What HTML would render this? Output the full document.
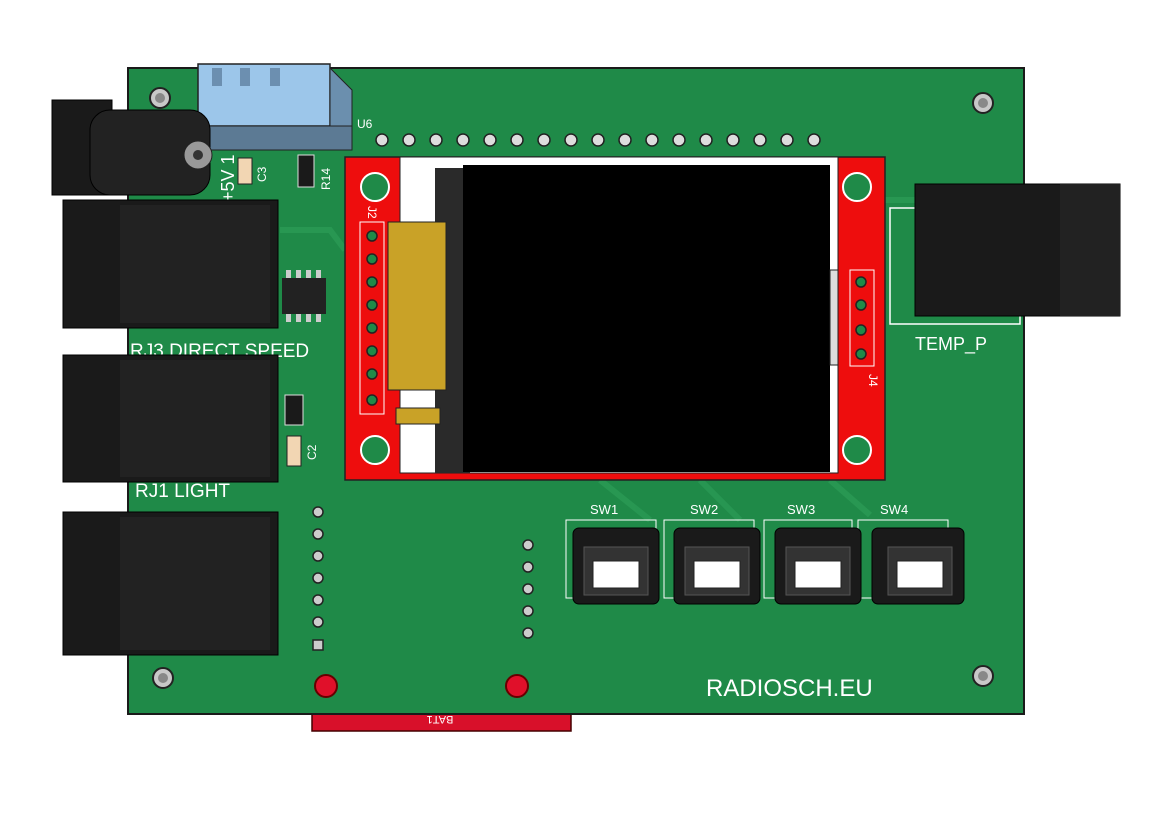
<!DOCTYPE html>
<html><head><meta charset="utf-8"><style>
html,body{margin:0;padding:0;background:#fff;}
svg{display:block;}
text{font-family:"Liberation Sans",sans-serif;}
</style></head><body>
<svg width="1171" height="831" viewBox="0 0 1171 831" xmlns="http://www.w3.org/2000/svg">
<rect width="1171" height="831" fill="#fff"/>
<rect x="312" y="710" width="259" height="21" fill="#d8102a" stroke="#400" stroke-width="1.5"/>
<text x="440" y="724" font-size="11" fill="#fff" text-anchor="middle" transform="rotate(180 440 720)">BAT1</text>
<rect x="128" y="68" width="896" height="646" fill="#1f8a48" stroke="#1a1a1a" stroke-width="2"/>
<g stroke="#2a9a55" stroke-width="6" fill="none" opacity="0.8">
<path d="M280 230 L330 230 L345 250"/><path d="M600 480 L650 520"/><path d="M700 480 L740 520"/><path d="M830 480 L870 515"/><path d="M885 200 L915 200"/>
</g>
<g fill="#c8c8c8" stroke="#222" stroke-width="2">
<circle cx="160" cy="98" r="10"/><circle cx="983" cy="103" r="10"/><circle cx="163" cy="678" r="10"/><circle cx="983" cy="676" r="10"/>
</g>
<g fill="#888"><circle cx="160" cy="98" r="5"/><circle cx="983" cy="103" r="5"/><circle cx="163" cy="678" r="5"/><circle cx="983" cy="676" r="5"/></g>
<g fill="#ddd" stroke="#222" stroke-width="1.5">
<circle cx="382" cy="140" r="6"/><circle cx="409" cy="140" r="6"/><circle cx="436" cy="140" r="6"/><circle cx="463" cy="140" r="6"/><circle cx="490" cy="140" r="6"/><circle cx="517" cy="140" r="6"/><circle cx="544" cy="140" r="6"/><circle cx="571" cy="140" r="6"/><circle cx="598" cy="140" r="6"/><circle cx="625" cy="140" r="6"/><circle cx="652" cy="140" r="6"/><circle cx="679" cy="140" r="6"/><circle cx="706" cy="140" r="6"/><circle cx="733" cy="140" r="6"/><circle cx="760" cy="140" r="6"/><circle cx="787" cy="140" r="6"/><circle cx="814" cy="140" r="6"/>
</g>
<text x="357" y="128" font-size="12" fill="#fff">U6</text>
<rect x="198" y="64" width="132" height="62" fill="#9cc6ea" stroke="#222" stroke-width="1.5"/>
<polygon points="330,68 352,90 352,146 330,126" fill="#6b8fae" stroke="#222"/>
<rect x="198" y="126" width="154" height="24" fill="#5c7a94" stroke="#222"/>
<rect x="212" y="68" width="10" height="18" fill="#6c8fb0"/><rect x="240" y="68" width="10" height="18" fill="#6c8fb0"/><rect x="270" y="68" width="10" height="18" fill="#6c8fb0"/>
<!-- barrel jack -->
<rect x="52" y="100" width="60" height="95" fill="#1a1a1a" stroke="#000"/>
<rect x="90" y="110" width="120" height="85" rx="20" fill="#222" stroke="#000"/>
<circle cx="198" cy="155" r="14" fill="#999" stroke="#222"/>
<circle cx="198" cy="155" r="5" fill="#333"/>
<text x="234" y="202" font-size="18" fill="#fff" transform="rotate(-90 234 202)">+5V 1</text>
<text x="266" y="182" font-size="12" fill="#fff" transform="rotate(-90 266 182)">C3</text>
<rect x="238" y="158" width="14" height="26" fill="#f2d6b3" stroke="#222"/>
<rect x="298" y="155" width="16" height="32" fill="#1a1a1a" stroke="#ddd"/>
<text x="330" y="190" font-size="12" fill="#fff" transform="rotate(-90 330 190)">R14</text>
<rect x="282" y="278" width="44" height="36" fill="#222"/>
<g fill="#ccc"><rect x="286" y="270" width="5" height="8"/><rect x="296" y="270" width="5" height="8"/><rect x="306" y="270" width="5" height="8"/><rect x="316" y="270" width="5" height="8"/><rect x="286" y="314" width="5" height="8"/><rect x="296" y="314" width="5" height="8"/><rect x="306" y="314" width="5" height="8"/><rect x="316" y="314" width="5" height="8"/></g>
<rect x="63" y="200" width="215" height="128" fill="#1a1a1a" stroke="#000"/>
<rect x="120" y="205" width="150" height="118" fill="#222"/>
<text x="130" y="357" font-size="19" fill="#fff">RJ3  DIRECT SPEED</text>
<rect x="63" y="355" width="215" height="127" fill="#1a1a1a" stroke="#000"/>
<rect x="120" y="360" width="150" height="117" fill="#222"/>
<text x="135" y="497" font-size="19" fill="#fff">RJ1   LIGHT</text>
<rect x="63" y="512" width="215" height="143" fill="#1a1a1a" stroke="#000"/>
<rect x="120" y="517" width="150" height="133" fill="#222"/>
<rect x="285" y="395" width="18" height="30" fill="#1a1a1a" stroke="#ddd"/>
<rect x="287" y="436" width="14" height="30" fill="#f2d6b3" stroke="#222"/>
<text x="316" y="460" font-size="12" fill="#fff" transform="rotate(-90 316 460)">C2</text>
<g fill="#ccc" stroke="#222" stroke-width="1.5">
<circle cx="318" cy="512" r="5"/><circle cx="318" cy="534" r="5"/><circle cx="318" cy="556" r="5"/><circle cx="318" cy="578" r="5"/><circle cx="318" cy="600" r="5"/><circle cx="318" cy="622" r="5"/><rect x="313" y="640" width="10" height="10"/>
<circle cx="528" cy="545" r="5"/><circle cx="528" cy="567" r="5"/><circle cx="528" cy="589" r="5"/><circle cx="528" cy="611" r="5"/><circle cx="528" cy="633" r="5"/>
</g>
<circle cx="326" cy="686" r="11" fill="#e0102a" stroke="#600" stroke-width="2"/>
<circle cx="517" cy="686" r="11" fill="#e0102a" stroke="#600" stroke-width="2"/>
<rect x="345" y="157" width="540" height="323" fill="#ee0d0d" stroke="#222" stroke-width="1.5"/>
<rect x="400" y="157" width="438" height="316" fill="#fff" stroke="#222"/>
<rect x="435" y="168" width="35" height="305" fill="#2a2a2a"/>
<rect x="463" y="165" width="367" height="307" fill="#000"/>
<rect x="830" y="270" width="8" height="95" fill="#ddd" stroke="#222"/>
<rect x="388" y="222" width="58" height="168" fill="#c9a227" stroke="#222"/>
<rect x="396" y="408" width="44" height="16" fill="#c9a227" stroke="#222"/>
<g fill="#1f8a48" stroke="#fff" stroke-width="2">
<circle cx="375" cy="187" r="14"/><circle cx="375" cy="450" r="14"/><circle cx="857" cy="187" r="14"/><circle cx="857" cy="450" r="14"/>
</g>
<rect x="360" y="222" width="24" height="192" fill="none" stroke="#fff"/>
<g fill="#1f8a48" stroke="#222" stroke-width="1.5">
<circle cx="372" cy="236" r="5"/><circle cx="372" cy="259" r="5"/><circle cx="372" cy="282" r="5"/><circle cx="372" cy="305" r="5"/><circle cx="372" cy="328" r="5"/><circle cx="372" cy="351" r="5"/><circle cx="372" cy="374" r="5"/><circle cx="372" cy="400" r="5"/>
<circle cx="861" cy="282" r="5"/><circle cx="861" cy="305" r="5"/><circle cx="861" cy="330" r="5"/><circle cx="861" cy="354" r="5"/>
</g>
<rect x="850" y="270" width="24" height="96" fill="none" stroke="#fff"/>
<text x="362" y="212" font-size="12" fill="#fff" transform="rotate(90 368 212)">J2</text>
<text x="862" y="375" font-size="12" fill="#fff" transform="rotate(90 866 378)">J4</text>
<rect x="890" y="208" width="130" height="116" fill="none" stroke="#fff" stroke-width="1.5"/>
<rect x="915" y="184" width="205" height="132" fill="#1a1a1a" stroke="#000"/>
<rect x="1060" y="184" width="60" height="132" fill="#222"/>
<text x="915" y="350" font-size="18" fill="#fff">TEMP_P</text>
<g font-size="13" fill="#fff">
<text x="590" y="514">SW1</text><text x="690" y="514">SW2</text><text x="787" y="514">SW3</text><text x="880" y="514">SW4</text>
</g>
<g fill="none" stroke="#fff"><rect x="566" y="520" width="90" height="78"/><rect x="664" y="520" width="90" height="78"/><rect x="764" y="520" width="88" height="78"/><rect x="858" y="520" width="90" height="78"/></g>
<g fill="#1a1a1a" stroke="#000">
<rect x="573" y="528" width="86" height="76" rx="6"/><rect x="674" y="528" width="86" height="76" rx="6"/><rect x="775" y="528" width="86" height="76" rx="6"/><rect x="872" y="528" width="92" height="76" rx="6"/>
</g>
<g fill="#333" stroke="#555"><rect x="584" y="547" width="64" height="48"/><rect x="685" y="547" width="64" height="48"/><rect x="786" y="547" width="64" height="48"/><rect x="888" y="547" width="64" height="48"/></g>
<g fill="#fff" stroke="#222"><rect x="593" y="561" width="46" height="27"/><rect x="694" y="561" width="46" height="27"/><rect x="795" y="561" width="46" height="27"/><rect x="897" y="561" width="46" height="27"/></g>
<text x="706" y="696" font-size="24" fill="#fff">RADIOSCH.EU</text>
</svg>
</body></html>
